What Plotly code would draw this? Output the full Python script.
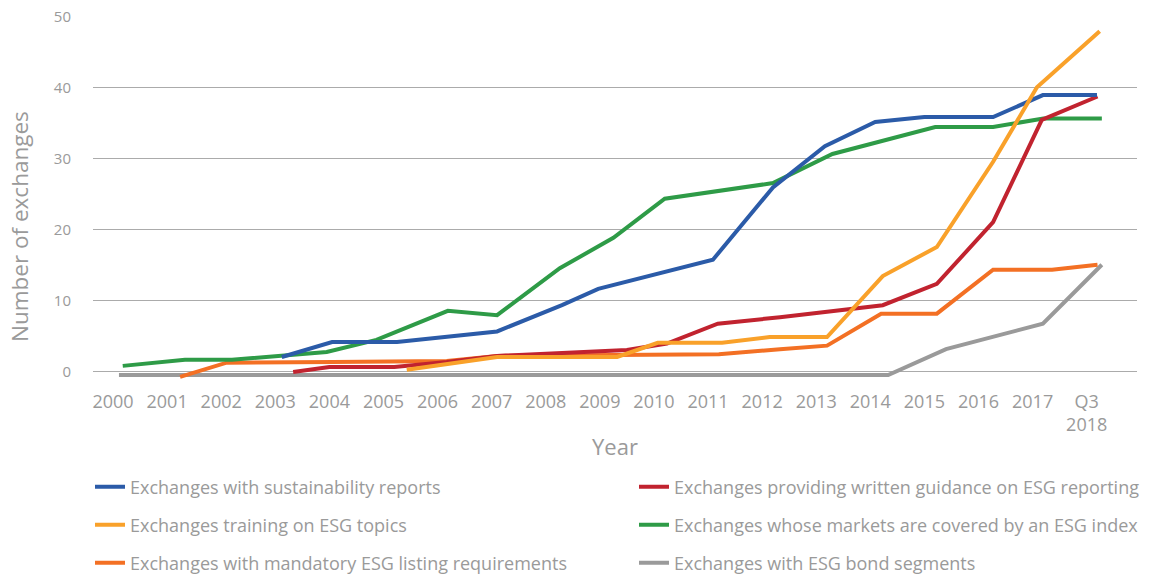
import plotly.graph_objects as go

# ---- data (x in year units; Q3 2018 plotted at 2018) ----
tick_years = list(range(2000, 2019))
tick_labels = [str(y) for y in range(2000, 2018)] + ["Q3<br>2018"]

blue_x = [2003.12, 2004.05, 2005.25, 2007.1, 2008.3, 2008.97, 2011.09, 2012.2, 2013.16, 2014.09, 2015.0, 2016.27, 2017.19, 2018.19]
blue_y = [2.1, 4.2, 4.2, 5.7, 9.4, 11.7, 15.8, 26.0, 31.8, 35.2, 35.9, 35.9, 39.0, 39.0]

red_x = [2003.33, 2004.0, 2005.2, 2006.17, 2007.1, 2009.5, 2010.24, 2011.18, 2012.33, 2014.23, 2015.23, 2016.27, 2017.17, 2018.2]
red_y = [0.0, 0.7, 0.7, 1.4, 2.25, 3.1, 4.0, 6.8, 7.7, 9.4, 12.4, 21.1, 35.5, 38.8]

yellow_x = [2005.43, 2007.1, 2009.32, 2010.07, 2011.26, 2012.14, 2013.2, 2014.23, 2015.23, 2016.27, 2017.08, 2018.24]
yellow_y = [0.3, 2.1, 2.1, 4.1, 4.1, 4.9, 4.9, 13.5, 17.6, 29.6, 40.1, 48.0]

green_x = [2000.18, 2001.33, 2002.2, 2003.1, 2003.95, 2004.87, 2006.19, 2007.1, 2008.26, 2009.25, 2010.2, 2012.2, 2013.3, 2015.2, 2016.27, 2017.2, 2018.28]
green_y = [0.85, 1.7, 1.7, 2.25, 2.8, 4.5, 8.6, 8.0, 14.6, 18.9, 24.4, 26.6, 30.7, 34.5, 34.5, 35.7, 35.7]

orange_x = [2001.24, 2002.1, 2004.07, 2006.17, 2007.1, 2011.2, 2012.33, 2013.2, 2014.2, 2015.23, 2016.27, 2017.36, 2018.2]
orange_y = [-0.7, 1.3, 1.4, 1.55, 2.25, 2.5, 3.2, 3.7, 8.2, 8.2, 14.4, 14.4, 15.1]

gray_x = [2000.11, 2014.33, 2015.4, 2017.19, 2018.28]
gray_y = [-0.45, -0.45, 3.2, 6.8, 15.1]

names = {
    "blue": "Exchanges with sustainability reports",
    "red": "Exchanges providing written guidance on ESG reporting",
    "yellow": "Exchanges training on ESG topics",
    "green": "Exchanges whose markets are covered by an ESG index",
    "orange": "Exchanges with mandatory ESG listing requirements",
    "gray": "Exchanges with ESG bond segments",
}
colors = {
    "blue": "#2B5BA8",
    "red": "#C1232F",
    "yellow": "#F9A12A",
    "green": "#2E9B47",
    "orange": "#F37024",
    "gray": "#9A9A9A",
}

FONT = "Open Sans"
GRAY_TXT = "#9a9a9a"

W, H = 1154, 575
ml, mr, mt, mb = 93, 17, 17, 196
pw = W - ml - mr
ph = H - mt - mb

def px_to_paper_x(px):
    return (px - ml) / pw

def py_to_paper_y(py):
    return (H - mb - py) / ph

# legend slot (pixel x of legend box, pixel y of row centre)
slots = {
    "blue": ("legend", 90, 487),
    "red": ("legend2", 634, 487),
    "yellow": ("legend3", 90, 525),
    "green": ("legend4", 634, 525),
    "orange": ("legend5", 90, 563),
    "gray": ("legend6", 634, 563),
}

# draw order (bottom -> top)
series = [
    ("gray", gray_x, gray_y),
    ("orange", orange_x, orange_y),
    ("green", green_x, green_y),
    ("red", red_x, red_y),
    ("blue", blue_x, blue_y),
    ("yellow", yellow_x, yellow_y),
]

fig = go.Figure()
for key, xs, ys in series:
    fig.add_trace(go.Scatter(
        x=xs, y=ys, mode="lines", name=names[key],
        line=dict(color=colors[key], width=4),
        legend=slots[key][0], hoverinfo="skip",
    ))

legends = {}
for key, (lname, lx, ly) in slots.items():
    legends[lname] = dict(
        orientation="h", xanchor="left", yanchor="middle",
        x=px_to_paper_x(lx), y=py_to_paper_y(ly),
        font=dict(family=FONT, size=18, color=GRAY_TXT),
        bgcolor="rgba(0,0,0,0)", itemwidth=30,
    )

fig.update_layout(
    width=W, height=H,
    margin=dict(l=ml, r=mr, t=mt, b=mb, autoexpand=False),
    paper_bgcolor="white", plot_bgcolor="white",
    font=dict(family=FONT, color=GRAY_TXT),
    xaxis=dict(
        range=[1999.63, 2018.93],
        tickmode="array", tickvals=tick_years, ticktext=tick_labels,
        showgrid=False, zeroline=False, showline=False,
        ticks="outside", ticklen=6, tickcolor="rgba(0,0,0,0)",
        tickfont=dict(family=FONT, size=18, color=GRAY_TXT),
        title=dict(text="Year", font=dict(family=FONT, size=22, color=GRAY_TXT), standoff=4),
    ),
    yaxis=dict(
        range=[-1, 50],
        tickvals=[0, 10, 20, 30, 40, 50],
        showgrid=True, gridcolor="#ababab", gridwidth=1,
        zeroline=False, showline=False,
        ticks="outside", ticklen=18, tickcolor="rgba(0,0,0,0)",
        tickfont=dict(family=FONT, size=15, color=GRAY_TXT),
    ),
    annotations=[dict(
        text="Number of exchanges", textangle=-90,
        xref="paper", yref="paper",
        x=px_to_paper_x(19), y=py_to_paper_y(227),
        xanchor="center", yanchor="middle", showarrow=False,
        font=dict(family=FONT, size=22.5, color=GRAY_TXT),
    )],
    showlegend=True,
    **legends,
)

fig.write_html("out.html", config={"displayModeBar": False},
               post_script="document.body.style.margin='0';")
